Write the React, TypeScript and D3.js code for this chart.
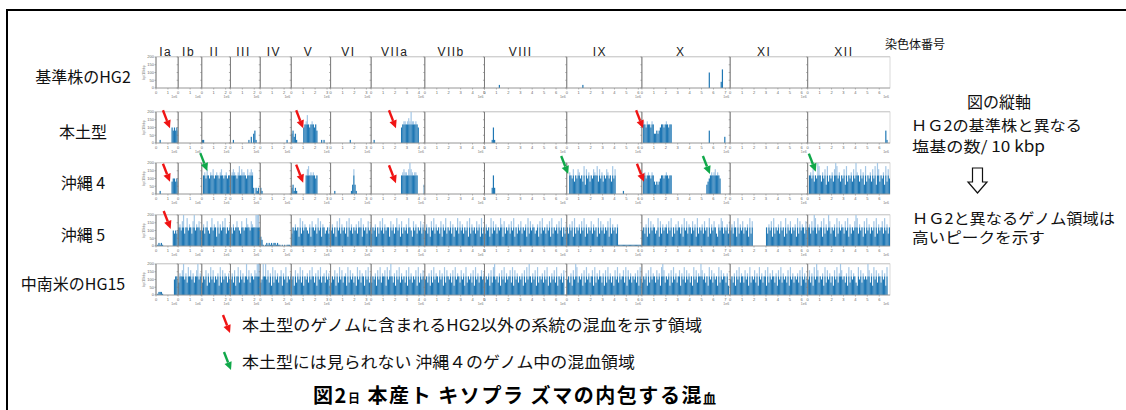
import React from 'react';
import * as d3 from 'd3';

// chromosome names and their lengths (Mb)
const CHROMS = ['Ia', 'Ib', 'II', 'III', 'IV', 'V', 'VI', 'VIIa', 'VIIb', 'VIII', 'IX', 'X', 'XI', 'XII'];
const CHROM_MB = [1.86, 1.98, 2.4, 2.5, 2.6, 3.3, 3.4, 4.5, 5.0, 6.9, 6.3, 7.4, 6.5, 6.9];
const SAMPLES = ['基準株のHG2', '本土型', '沖縄 4', '沖縄 5', '中南米のHG15'];
const Y_TICKS = [0, 50, 100, 150, 200];
const BIN_MB = 0.1;

// one char per 0.1 Mb bin: '0'-'9','a' -> x20 bases / 10 kbp, '.' -> ~8
const hg2Ref = [
  '0000000000000000000',
  '00000000000000000000',
  '000000000000000000000000',
  '0000000000000000000000000',
  '00000000000000000000000000',
  '000000000000000000000000000000000',
  '0000000000000000000000000000000000',
  '000000000000000000000000000000000000000000000',
  '00000000000000000000000000000000000000000000000000',
  '000000000000100000000000000000000000000000000000000000000000000000000',
  '000000000000010000000000000000000000000000000000000000000000000',
  '00000000000000000000000000000000000000000000000000000000500000000026000000',
  '00000000000000000000000000000000000000000000000000000000000000000',
  '000000000000000000000000000000000000000000000000000000000000000000000',
];
const hondo = [
  '0001000000000545454',
  '00000000000000000000',
  '110000000000000000000000',
  '0010000000000001020341000',
  '00000000000000000000001000',
  '342310000056796567656400010100000',
  '0000000000000000100000000000000000',
  '001000000000000000000000056776787a77676500000',
  '00000000000000000000000000000000000000000000000000',
  '000000151000000000000000000000000000000000000000000000000000000000000',
  '000000000000000000000000000000000000000000000000000000000000000',
  '07657665763343456656765660000000000000000000000000000000400000000000020000',
  '00000000000000000000000000000000000000000000000000000000000000000',
  '000000000000000000000000000000000000000000000000000000000000000004100',
];
const okinawa4 = [
  '0001000000000455454',
  '00000000000000000000',
  '067586576856765786567566',
  '6787657968776586787202120',
  '21000000000000000000000000',
  '231210000000689676765600000000000',
  '0001000000000000013831000000000000',
  '00000000000000000000000006787768a876776000003',
  '00000000000000000000000000000000000000000000000000',
  '000000262000000000000000000000000000000000000000000000000000000000000',
  '007658465875649385746587694857465875649580000001000000000000000',
  '06756765764343456656765660000000000000000000000000000034567678676500000000',
  '00000000000000000000000000000000000000000000000000000000000000000',
  '06758465a96475839465748a9574658394657485a76485739465748593a8465739485',
];
const okinawa5 = [
  '0.1.1.0000000054545',
  '6758a46957648a576856',
  '574685469576384758694657',
  '647568654865697658766aaa6',
  '32.0.1.1.1.11.1..0.0.0...',
  '465756394857654738657495837645647',
  '5746385947564839574657486937564857',
  '465736485947566385746957384657496538574658475',
  '57463859475648375946584736594857465839475648573946',
  '475639485746597384657485936475846573948576457384956475839465748593647',
  '6475839465748593746584756394857465839475647....................',
  '56473948576459384756748593647586473958476485739465748563947586437598465748',
  '57486394758465739480000000000064758394657485639475846573948576485',
  '67485a94756839475a8465739485764859374658a9475638495746583947568495746',
];
const hg15 = [
  '0.111.0000000005665',
  '4768a57496857468a576',
  '465837495846573948576475',
  '5748369485746a58476587aaa6',
  '45a6a584739485746837594657',
  '563847594836574859647385946748573',
  '4658374958467394857463958476385947',
  '4657385947683958a6473859475648395746583947586',
  '56473849576485739486574839576485739465748395746857',
  '46573849a5647385947568493857465738495a64758394657485936475849365748',
  '5647385a9465738495746839475864738495746385947568493857465748395',
  '46573849576485739a8465738495746837594857463958476a85746395847563948576473',
  '56473859476485739465847395746839475864738594756483957465748395746',
  '5847395a8465739485746385947a8564739485764395847565a8473958476485739',
];
const SERIES = [hg2Ref, hondo, okinawa4, okinawa5, hg15];

// arrow tips: [sample, chromosome, Mb, value]
const RED_ARROWS: [number, string, number, number][] = [
  [1, 'Ia', 1.17, 95], [1, 'V', 1.0, 95], [1, 'VIIa', 2.08, 95], [1, 'X', 0.1, 95],
  [2, 'Ia', 1.17, 79], [2, 'V', 1.0, 73], [2, 'VIIa', 2.08, 69], [2, 'X', 0.17, 79],
  [3, 'Ia', 1.23, 110],
];
const GREEN_ARROWS: [number, string, number, number][] = [
  [2, 'II', 0.46, 148], [2, 'IX', 0.12, 129], [2, 'X', 5.7, 129], [2, 'XII', 0.68, 144],
];

const LEGEND = [
  '本土型のゲノムに含まれるHG2以外の系統の混血を示す領域',
  '本土型には見られない 沖縄４のゲノム中の混血領域',
];

const RED = '#f01414';
const GREEN = '#10a84a';
const BLUE = '#1f77b4';
const LIGHT = '#a3c7e6';
const JP = "'Noto Sans CJK JP', 'Noto Sans', sans-serif";
const LAT = "'Liberation Sans', Arial, sans-serif";

const W = 1126;
const H = 410;
const ROW_TOP = [57, 112, 163, 215, 264];
const ROW_H = 31;

function decode(c: string) {
  if (c === '.') return 8;
  return parseInt(c, 11) * 20;
}

function Arrow({ tx, ty, color }: { tx: number; ty: number; color: string }) {
  // tail sits up-left of the tip
  const dx = 7, dy = 18;
  const len = Math.hypot(dx, dy);
  const ux = dx / len, uy = dy / len;
  const bx = tx - ux * 8, by = ty - uy * 8;
  const nx = -uy, ny = ux;
  return (
    <g>
      <line x1={tx - dx} y1={ty - dy} x2={bx} y2={by} stroke={color} strokeWidth={2.4} />
      <polygon
        points={`${tx},${ty} ${bx + nx * 3.8},${by + ny * 3.8} ${bx - nx * 3.8},${by - ny * 3.8}`}
        fill={color}
      />
    </g>
  );
}

export default function App() {
  const starts = d3.cumsum([0, ...CHROM_MB.slice(0, -1)]);
  const total = d3.sum(CHROM_MB);
  const x = d3.scaleLinear().domain([0, total]).range([156, 890]);
  const pxPerMb = x(1) - x(0);
  const chromX = (name: string, mb: number) => x(starts[CHROMS.indexOf(name)] + mb);

  const rows = SERIES.map((series, r) => {
    const top = ROW_TOP[r];
    const y = d3.scaleLinear().domain([0, 200]).range([top + ROW_H, top]);
    return (
      <g key={r}>
        <line x1={x(0)} x2={x(total)} y1={top} y2={top} stroke="#d2d2d2" strokeWidth={2} />
        {CHROMS.map((c, i) => {
          const x0 = x(starts[i]);
          const x1 = x(starts[i] + CHROM_MB[i]);
          const bins = series[i].split('').map(decode);
          const ticks = d3.range(0, Math.floor(CHROM_MB[i]) + 1);
          return (
            <g key={c}>
              <rect x={x0} y={top} width={x1 - x0} height={ROW_H} fill="#fff" stroke="#cfcfcf" strokeWidth={0.8} />
              {bins.map((v, b) => {
                if (v <= 0) return null;
                const bx = x0 + b * BIN_MB * pxPerMb;
                if (bx >= x1) return null;
                const bw = Math.min(BIN_MB * pxPerMb, x1 - bx);
                const dark = Math.min(v, 120);
                return (
                  <g key={b}>
                    {v > dark && <rect x={bx} y={y(v)} width={bw} height={y(dark) - y(v)} fill={LIGHT} />}
                    <rect x={bx} y={y(dark)} width={bw} height={y(0) - y(dark)} fill={BLUE} />
                  </g>
                );
              })}
              <line x1={x0} x2={x0} y1={top} y2={top + ROW_H} stroke="#7a7a7a" strokeWidth={1} />
              {Y_TICKS.map(t => (
                <line key={t} x1={x0 - 1.5} x2={x0} y1={y(t)} y2={y(t)} stroke="#7a7a7a" strokeWidth={0.6} />
              ))}
              <line x1={x0} x2={x1} y1={top + ROW_H} y2={top + ROW_H} stroke="#9a9a9a" strokeWidth={0.8} />
              {ticks.map(t => (
                <g key={t}>
                  <line x1={x0 + t * pxPerMb} x2={x0 + t * pxPerMb} y1={top + ROW_H} y2={top + ROW_H + 1.5} stroke="#888" strokeWidth={0.6} />
                  <text x={x0 + t * pxPerMb} y={top + ROW_H + 5.5} fontSize={4} fill="#666" textAnchor="middle" fontFamily={LAT}>{t}</text>
                </g>
              ))}
              <text x={x1 - 1} y={top + ROW_H + 10} fontSize={3.5} fill="#777" textAnchor="end" fontFamily={LAT}>1e6</text>
            </g>
          );
        })}
        {Y_TICKS.map(t => (
          <text key={t} x={x(0) - 2} y={y(t) + 1.3} fontSize={4} fill="#666" textAnchor="end" fontFamily={LAT}>{t}</text>
        ))}
        <text transform={`translate(145,${top + ROW_H / 2}) rotate(-90)`} fontSize={3.5} fill="#777" textAnchor="middle" fontFamily={LAT}>bp/10kbp</text>
        <text
          x={r === 4 ? 73 : 83}
          y={top + 19}
          fontSize={16}
          fontFamily={JP}
          textAnchor="middle"
          dominantBaseline="central"
          fill="#111"
        >{SAMPLES[r]}</text>
      </g>
    );
  });

  const arrowAt = (a: [number, string, number, number], color: string, k: number) => {
    const [r, c, mb, v] = a;
    const y = d3.scaleLinear().domain([0, 200]).range([ROW_TOP[r] + ROW_H, ROW_TOP[r]]);
    return <Arrow key={color + k} tx={chromX(c, mb)} ty={y(v)} color={color} />;
  };

  return (
    <svg width={W} height={H} style={{ position: 'absolute', left: 0, top: 0, background: '#fff' }}>
      <rect width={W} height={H} fill="#fff" />
      <line x1={6} x2={W} y1={10} y2={10} stroke="#000" strokeWidth={2} />
      <line x1={7} x2={7} y1={10} y2={H} stroke="#000" strokeWidth={2} />

      {CHROMS.map((c, i) => (
        <text key={c} x={x(starts[i] + CHROM_MB[i] * 0.44)} y={56} fontSize={12} fontFamily={LAT} letterSpacing={1.5} textAnchor="middle" fill="#222">{c}</text>
      ))}
      <text x={885} y={49} fontSize={12} fontFamily={JP} fill="#111">染色体番号</text>

      {rows}
      {RED_ARROWS.map((a, k) => arrowAt(a, RED, k))}
      {GREEN_ARROWS.map((a, k) => arrowAt(a, GREEN, k))}

      <g fontFamily={JP} fill="#111" fontSize={15}>
        <text x={967} y={108} fontSize={16}>図の縦軸</text>
        <text x={911} y={131} textLength={171} lengthAdjust="spacingAndGlyphs">ＨＧ2の基準株と異なる</text>
        <text x={912} y={152} textLength={133} lengthAdjust="spacingAndGlyphs">塩基の数/ 10 kbp</text>
        <path d="M972.5,168 H982.5 V182 H987 L977.5,193 L968,182 H972.5 Z" fill="#fff" stroke="#111" strokeWidth={1.2} />
        <text x={912} y={224} textLength={203} lengthAdjust="spacingAndGlyphs">ＨＧ2と異なるゲノム領域は</text>
        <text x={912} y={243} textLength={133} lengthAdjust="spacingAndGlyphs">高いピークを示す</text>
      </g>

      <Arrow tx={230} ty={333} color={RED} />
      <Arrow tx={231} ty={370} color={GREEN} />
      <g fontFamily={JP} fill="#111" fontSize={16}>
        <text x={242} y={331} textLength={460} lengthAdjust="spacingAndGlyphs">{LEGEND[0]}</text>
        <text x={242} y={368} textLength={393} lengthAdjust="spacingAndGlyphs">{LEGEND[1]}</text>
      </g>
      <text x={313} y={403} fontFamily={JP} fontWeight="bold" fontSize={20} fill="#000" textLength={403} lengthAdjust="spacing">
        図2<tspan fontSize={12}>日</tspan> 本産ト キソプラ ズマの内包する混<tspan fontSize={13}>血</tspan>
      </text>
    </svg>
  );
}
